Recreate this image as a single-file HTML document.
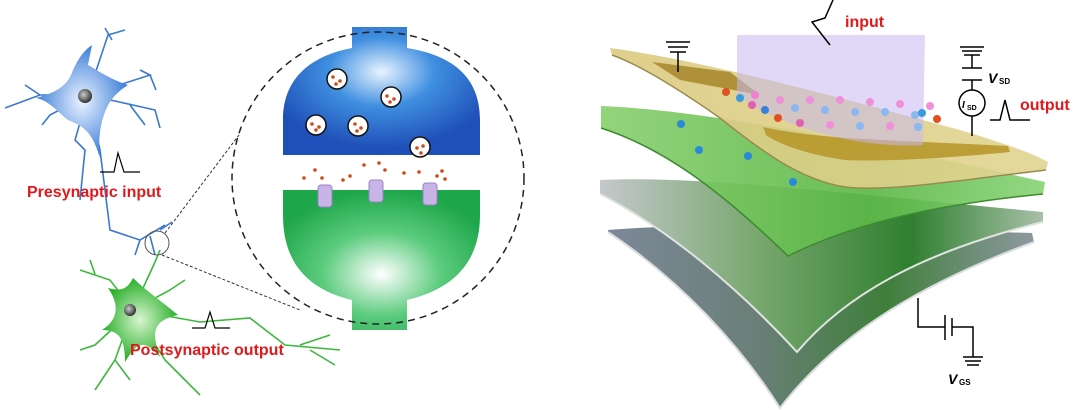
<!DOCTYPE html>
<html><head><meta charset="utf-8"><style>
html,body{margin:0;padding:0;background:#fff}
svg{display:block}
text{font-family:"Liberation Sans",Arial,sans-serif;font-weight:bold}
</style></head><body>
<svg width="1080" height="410" viewBox="0 0 1080 410" xmlns="http://www.w3.org/2000/svg">
<defs>
<radialGradient id="bl" cx="0.5" cy="0.35" r="0.6"><stop offset="0" stop-color="#e8f4ff"/><stop offset="0.45" stop-color="#3f8fe0"/><stop offset="1" stop-color="#1f4fb8"/></radialGradient>
<radialGradient id="gr" cx="0.5" cy="0.6" r="0.6"><stop offset="0" stop-color="#ffffff"/><stop offset="0.5" stop-color="#5ccc7e"/><stop offset="1" stop-color="#1ea64a"/></radialGradient>
<radialGradient id="sb" cx="0.5" cy="0.5" r="0.5"><stop offset="0" stop-color="#eaf3ff"/><stop offset="1" stop-color="#3f7fd8"/></radialGradient>
<radialGradient id="sg" cx="0.5" cy="0.5" r="0.5"><stop offset="0" stop-color="#d8f5d0"/><stop offset="1" stop-color="#2ab02a"/></radialGradient>
<radialGradient id="nu" cx="0.4" cy="0.4" r="0.6"><stop offset="0" stop-color="#ccc"/><stop offset="1" stop-color="#333"/></radialGradient>
<linearGradient id="l4" x1="0" y1="0" x2="1" y2="0"><stop offset="0" stop-color="#7d8898"/><stop offset="0.35" stop-color="#6a7f78"/><stop offset="0.65" stop-color="#3f7f3a"/><stop offset="1" stop-color="#8e98a0"/></linearGradient>
<linearGradient id="l3" x1="0" y1="0" x2="1" y2="0"><stop offset="0" stop-color="#c4c8cc"/><stop offset="0.35" stop-color="#7aa870"/><stop offset="0.7" stop-color="#2f7f30"/><stop offset="1" stop-color="#a8c0a8"/></linearGradient>
<linearGradient id="l2" x1="0" y1="0" x2="1" y2="0"><stop offset="0" stop-color="#8ad070"/><stop offset="0.6" stop-color="#5cb848"/><stop offset="1" stop-color="#8ad478"/></linearGradient>
<linearGradient id="l1" x1="0" y1="0" x2="1" y2="0"><stop offset="0" stop-color="#dcca80"/><stop offset="1" stop-color="#e0d490"/></linearGradient>
</defs>

<!-- blue neuron -->
<g stroke="#3a78d0" stroke-width="1.6" fill="none">
<path d="M88,95 L108,35 L125,30 M112,40 L105,28 M88,95 L150,75 L140,70 M150,75 L156,90 M88,95 L155,110 L160,128 M130,105 L145,125 M88,95 L40,95 L5,108 M40,95 L25,85 M88,95 L50,115 L42,125 M88,95 L75,140 L85,150 L80,200 M88,95 L100,150 L110,230 L140,240 L165,225 M140,240 L135,255 M150,236 L155,255 M160,230 L172,222"/>
</g>
<path d="M88,65 C100,72 112,80 128,85 C112,95 108,105 105,112 C100,125 98,140 100,158 C92,132 85,127 68,120 C58,112 48,100 36,98 C58,92 68,85 73,70 C78,60 82,52 92,45 Z" fill="url(#sb)"/>
<circle cx="85" cy="96" r="7" fill="url(#nu)"/>
<!-- green neuron -->
<g stroke="#3cb83c" stroke-width="1.6" fill="none">
<path d="M133,310 L155,262 L160,250 M133,310 L110,280 L80,270 M95,274 L90,260 M133,310 L170,290 L185,280 M133,310 L200,322 L250,318 L285,345 L340,350 M300,345 L330,335 M310,350 L335,365 M133,310 L115,360 L95,390 M115,360 L130,380 M133,310 L165,360 L185,380 L200,395 M133,310 L95,345 L80,350"/>
</g>
<path d="M133,278 C145,290 160,300 178,315 C155,320 150,330 160,357 C145,340 138,340 125,362 C125,340 120,330 102,330 C118,320 120,305 108,288 C122,292 128,288 133,278 Z" fill="url(#sg)"/>
<circle cx="130" cy="310" r="6" fill="url(#nu)"/>
<path d="M100,172 L114,172 L118,153 L124,172 L140,172" stroke="#000" stroke-width="1.2" fill="none"/>
<path d="M192,328 L205,328 L210,312 L215,328 L230,328" stroke="#000" stroke-width="1.2" fill="none"/>
<text x="27" y="197" font-size="16" fill="#e0191c">Presynaptic input</text>
<text x="130" y="355" font-size="16" fill="#e0191c">Postsynaptic output</text>
<circle cx="157" cy="243" r="12" fill="none" stroke="#555" stroke-width="1"/>
<path d="M165,233 L239,135 M162,255 L300,310" stroke="#333" stroke-width="1" stroke-dasharray="3,2"/>

<!-- zoom circle -->
<path d="M352,27 L407,27 L407,48 C450,55 480,75 480,120 L480,155 L283,155 L283,120 C283,75 315,55 352,48 Z" fill="url(#bl)"/>
<path d="M283,190 L480,190 L480,215 C480,265 450,290 407,300 L407,330 L352,330 L352,300 C310,290 283,265 283,215 Z" fill="url(#gr)"/>
<circle cx="378" cy="178" r="146" fill="none" stroke="#222" stroke-width="1.5" stroke-dasharray="7,5"/>
<g fill="#fff" stroke="#111" stroke-width="1.5">
<circle cx="337" cy="79" r="10"/><circle cx="391" cy="97" r="10"/><circle cx="316" cy="125" r="10"/><circle cx="358" cy="126" r="10"/><circle cx="420" cy="147" r="10"/>
</g>
<g fill="#d2491a">
<circle cx="333" cy="77" r="1.8"/><circle cx="340" cy="81" r="1.8"/><circle cx="336" cy="84" r="1.8"/><circle cx="387" cy="96" r="1.8"/><circle cx="394" cy="99" r="1.8"/><circle cx="390" cy="102" r="1.8"/><circle cx="312" cy="124" r="1.8"/><circle cx="319" cy="127" r="1.8"/><circle cx="316" cy="130" r="1.8"/><circle cx="355" cy="124" r="1.8"/><circle cx="361" cy="128" r="1.8"/><circle cx="357" cy="131" r="1.8"/><circle cx="417" cy="148" r="1.8"/><circle cx="423" cy="146" r="1.8"/><circle cx="421" cy="153" r="1.8"/>
<circle cx="304" cy="178" r="1.8"/><circle cx="315" cy="170" r="1.8"/><circle cx="322" cy="178" r="1.8"/><circle cx="343" cy="180" r="1.8"/><circle cx="350" cy="176" r="1.8"/><circle cx="364" cy="165" r="1.8"/><circle cx="379" cy="163" r="1.8"/><circle cx="385" cy="170" r="1.8"/><circle cx="404" cy="173" r="1.8"/><circle cx="419" cy="172" r="1.8"/><circle cx="437" cy="176" r="1.8"/><circle cx="442" cy="171" r="1.8"/><circle cx="445" cy="179" r="1.8"/>
</g>
<g fill="#c8b4e6" stroke="#9a80c8" stroke-width="1">
<rect x="318" y="185" width="14" height="22" rx="3"/><rect x="369" y="180" width="14" height="22" rx="3"/><rect x="423" y="183" width="14" height="22" rx="3"/>
</g>

<!-- right device -->
<path d="M608,230 C700,222 850,228 1032,233 L1034,242 C930,280 840,330 780,408 C740,345 680,280 608,232 Z" fill="url(#l4)"/>
<path d="M608,232 C680,280 740,345 780,408 C840,330 930,280 1034,242" fill="none" stroke="#d8dcdc" stroke-width="2"/>
<path d="M600,180 C700,175 860,195 1043,212 L1043,222 C930,250 850,290 797,352 C740,290 670,230 600,194 Z" fill="url(#l3)"/>
<path d="M600,194 C670,230 740,290 797,352 C850,290 930,250 1043,222" fill="none" stroke="#e0e4e0" stroke-width="2"/>
<path d="M601,106 C700,110 860,140 1045,182 L1043,194 C930,205 850,225 788,256 C730,200 670,150 601,128 Z" fill="url(#l2)" opacity="0.92"/>
<path d="M601,128 C670,150 730,200 788,256 C850,225 930,205 1043,194" fill="none" stroke="#3e8a30" stroke-width="1.5"/>
<path d="M610,48 C700,60 830,95 960,130 C1000,142 1030,152 1048,162 L1046,170 C960,180 890,192 845,187 C800,180 760,150 720,118 C680,90 640,65 612,55 Z" fill="url(#l1)" opacity="0.9"/>
<path d="M612,55 C640,65 680,90 720,118 C760,150 800,180 845,187 C890,192 960,180 1046,170" fill="none" stroke="#9a8a50" stroke-width="1.5"/>
<path d="M652,62 L730,72 L760,95 L680,80 Z" fill="#a88a30" opacity="0.9"/>
<path d="M763,127 C820,140 900,140 1008,146 L1010,152 C950,158 880,162 845,160 C810,155 780,145 766,135 Z" fill="#b8982e" opacity="0.9"/>
<path d="M737,35 L925,35 L923,145 C870,148 810,135 760,110 L737,95 Z" fill="#c8b8f0" opacity="0.55"/>
<g>
<circle cx="726" cy="92" r="4" fill="#e05020"/><circle cx="740" cy="98" r="4" fill="#3a9ae0"/><circle cx="755" cy="95" r="4" fill="#f080d0"/><circle cx="752" cy="105" r="4" fill="#e060b0"/><circle cx="765" cy="110" r="4" fill="#3a80d8"/><circle cx="778" cy="118" r="4" fill="#e05020"/><circle cx="780" cy="100" r="4" fill="#f090d8"/><circle cx="795" cy="108" r="4" fill="#8ab8f0"/><circle cx="810" cy="100" r="4" fill="#f090d8"/><circle cx="825" cy="110" r="4" fill="#8ab8f0"/><circle cx="840" cy="100" r="4" fill="#f090d8"/><circle cx="855" cy="112" r="4" fill="#8ab8f0"/><circle cx="870" cy="102" r="4" fill="#f090d8"/><circle cx="885" cy="112" r="4" fill="#8ab8f0"/><circle cx="900" cy="104" r="4" fill="#f090d8"/><circle cx="915" cy="115" r="4" fill="#8ab8f0"/><circle cx="930" cy="106" r="4" fill="#f090d8"/><circle cx="800" cy="123" r="4" fill="#e060b0"/><circle cx="830" cy="125" r="4" fill="#f090d8"/><circle cx="860" cy="126" r="4" fill="#8ab8f0"/><circle cx="890" cy="126" r="4" fill="#f090d8"/><circle cx="918" cy="127" r="4" fill="#8ab8f0"/><circle cx="922" cy="113" r="4" fill="#3a9ae0"/><circle cx="937" cy="119" r="4" fill="#e05020"/>
<circle cx="681" cy="124" r="4" fill="#2a8ad8"/><circle cx="699" cy="150" r="4" fill="#2a8ad8"/><circle cx="748" cy="156" r="4" fill="#2a8ad8"/><circle cx="793" cy="182" r="4" fill="#2a8ad8"/>
</g>
<g stroke="#000" stroke-width="1.5" fill="none">
<path d="M666,42 L690,42 M668,47 L688,47 M670,52 L686,52 M678,52 L678,72"/>
<path d="M960,47 L984,47 M962,51 L982,51 M964,55 L980,55 M972,55 L972,68 M962,68 L982,68 M962,80 L982,80 M972,80 L972,90 M972,116 L972,136"/>
<circle cx="972" cy="103" r="13"/>
<path d="M990,120 L1000,120 L1005,100 L1010,120 L1030,120"/>
<path d="M830,45 L812,22 L825,18 L833,0"/>
<path d="M918,298 L918,327 L945,327 M945,315 L945,340 M952,318 L952,336 M952,327 L973,327 L973,357 M963,357 L983,357 M965,361 L981,361 M967,365 L979,365"/>
</g>
<text x="845" y="27" font-size="16" fill="#e0191c">input</text>
<text x="1020" y="110" font-size="16" fill="#e0191c">output</text>
<text x="962" y="108" font-size="10" fill="#000" font-style="italic">I</text><text x="967" y="110" font-size="7" fill="#000">SD</text>
<text x="988" y="83" font-size="14" font-style="italic" fill="#000">V</text><text x="999" y="84" font-size="8" fill="#000">SD</text>
<text x="948" y="384" font-size="14" font-style="italic" fill="#000">V</text><text x="959" y="385" font-size="8" fill="#000">GS</text>
</svg>
</body></html>
